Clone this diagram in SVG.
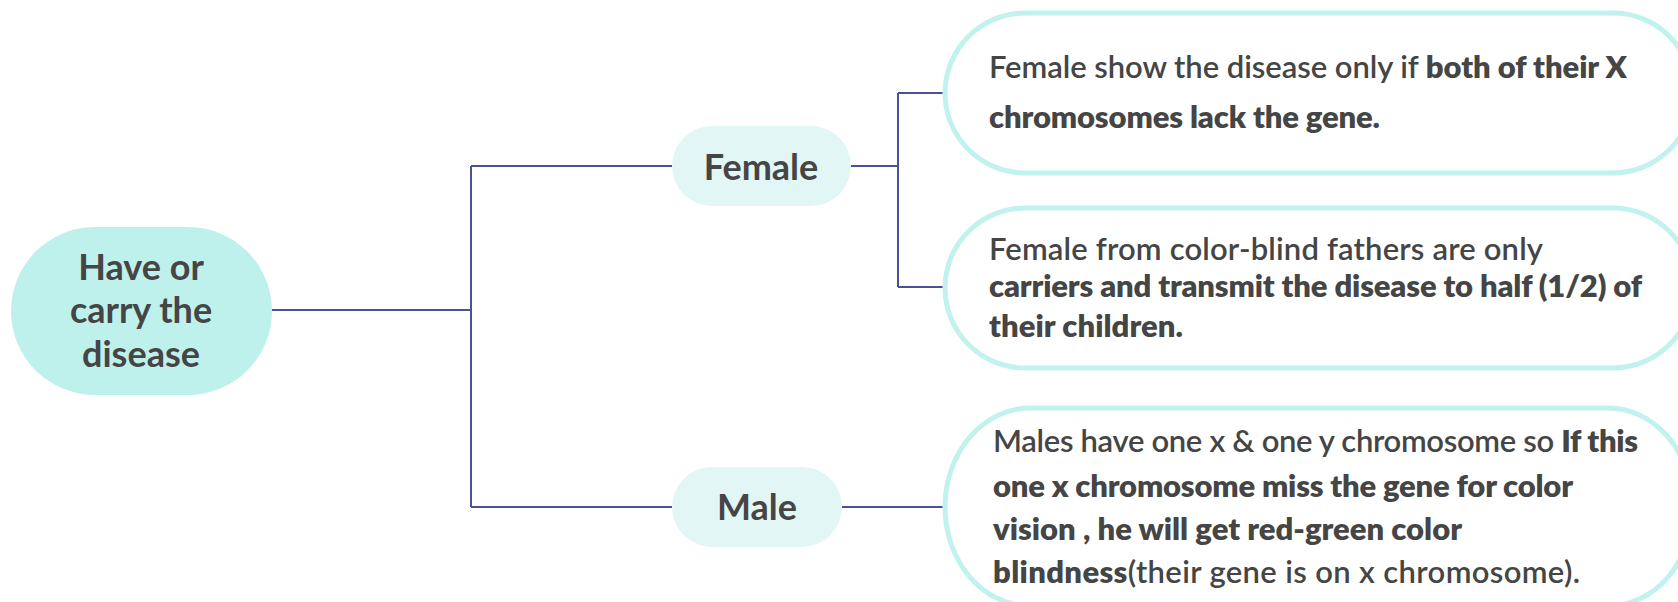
<svg xmlns="http://www.w3.org/2000/svg" width="1678" height="602" viewBox="0 0 1678 602">
  <style>
    .conn { fill: none; stroke: #4b5196; stroke-width: 2; }
    .root { fill: #bff1ec; }
    .sub { fill: #e3f6f6; }
    .box { fill: #ffffff; stroke: #c1f2ed; stroke-width: 5; }
    .t { font-family: Lato, "Noto Sans", "Liberation Sans", sans-serif; fill: #454545; }
    .big { font-size: 36px; font-weight: 700; }
    .body { font-size: 31px; font-weight: 600; }
    .b { font-weight: 800; }
  </style>
  <rect width="1678" height="602" fill="#ffffff"/>
  <g id="connectors">
    <path class="conn" d="M272 310 H471"/>
    <path class="conn" d="M471 166 V507"/>
    <path class="conn" d="M471 166 H672"/>
    <path class="conn" d="M471 507 H672"/>
    <path class="conn" d="M851 166 H898"/>
    <path class="conn" d="M898 93 V287"/>
    <path class="conn" d="M898 93 H945"/>
    <path class="conn" d="M898 287 H945"/>
    <path class="conn" d="M842 507 H945"/>
  </g>
  <g id="root">
    <rect class="root" x="11" y="227" width="261" height="168" rx="84" ry="84"/>
    <text class="t big" text-anchor="middle" x="141" y="280">Have or</text>
    <text class="t big" text-anchor="middle" x="141" y="323">carry the</text>
    <text class="t big" text-anchor="middle" x="141" y="367">disease</text>
  </g>
  <g id="female">
    <rect class="sub" x="672" y="126" width="179" height="80" rx="40" ry="40"/>
    <text class="t big" text-anchor="middle" x="761" y="180">Female</text>
  </g>
  <g id="male">
    <rect class="sub" x="672" y="467" width="170" height="80" rx="40" ry="40"/>
    <text class="t big" text-anchor="middle" x="757" y="520">Male</text>
  </g>
  <g id="box1">
    <rect class="box" x="945" y="13" width="748" height="160" rx="80" ry="80"/>
    <text class="t body" x="989" y="78" textLength="638"><tspan>Female show the disease only if </tspan><tspan class="b">both of their X</tspan></text>
    <text class="t body b" x="989" y="128" textLength="391">chromosomes lack the gene.</text>
  </g>
  <g id="box2">
    <rect class="box" x="945" y="208" width="748" height="160" rx="80" ry="80"/>
    <text class="t body" x="989" y="260" textLength="554">Female from color-blind fathers are only</text>
    <text class="t body b" x="989" y="297" textLength="653">carriers and transmit the disease to half (1/2) of</text>
    <text class="t body b" x="989" y="337" textLength="194">their children.</text>
  </g>
  <g id="box3">
    <rect class="box" x="945" y="408" width="748" height="198" rx="85" ry="99"/>
    <text class="t body" x="993" y="452" textLength="645"><tspan>Males have one x &amp; one y chromosome so </tspan><tspan class="b">If this</tspan></text>
    <text class="t body b" x="993" y="497" textLength="580">one x chromosome miss the gene for color</text>
    <text class="t body b" x="993" y="540" textLength="469">vision , he will get red-green color</text>
    <text class="t body" x="993" y="583" textLength="587"><tspan class="b">blindness</tspan><tspan>(their gene is on x chromosome).</tspan></text>
  </g>
</svg>
